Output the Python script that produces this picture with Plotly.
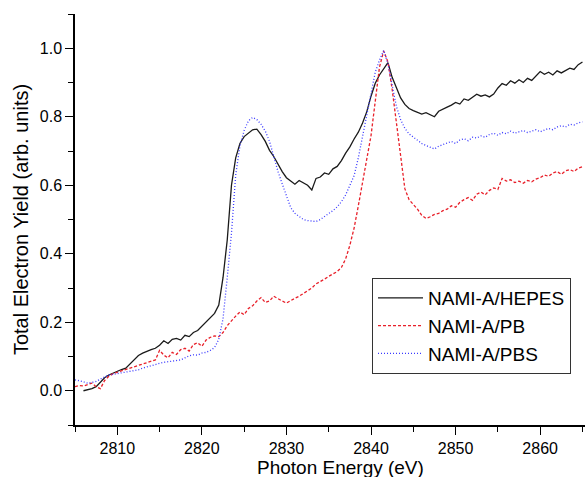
import plotly.graph_objects as go

x_hepes = [2806 + 0.5 * i for i in range(119)]
hepes = [0.000, 0.003, 0.006, 0.012, 0.025, 0.038, 0.046, 0.052, 0.057, 0.062,
         0.066, 0.078, 0.092, 0.103, 0.110, 0.116, 0.120, 0.124, 0.133, 0.146,
         0.138, 0.150, 0.153, 0.148, 0.162, 0.158, 0.170, 0.176, 0.188, 0.203,
         0.212, 0.226, 0.250, 0.330, 0.440, 0.600, 0.680, 0.722, 0.742, 0.752,
         0.762, 0.764, 0.748, 0.728, 0.702, 0.684, 0.660, 0.640, 0.622, 0.612,
         0.603, 0.614, 0.606, 0.600, 0.586, 0.620, 0.624, 0.636, 0.632, 0.648,
         0.655, 0.672, 0.694, 0.712, 0.735, 0.755, 0.782, 0.815, 0.860, 0.898,
         0.922, 0.940, 0.958, 0.915, 0.884, 0.855, 0.836, 0.824, 0.818, 0.812,
         0.808, 0.812, 0.806, 0.800, 0.816, 0.821, 0.828, 0.834, 0.842, 0.837,
         0.852, 0.848, 0.858, 0.866, 0.860, 0.864, 0.858, 0.866, 0.884, 0.897,
         0.892, 0.905, 0.898, 0.908, 0.900, 0.912, 0.906, 0.918, 0.932, 0.924,
         0.930, 0.922, 0.934, 0.928, 0.936, 0.942, 0.938, 0.952, 0.960]

x_pb = [2805 + 0.5 * i for i in range(121)]
pb = [0.012, 0.015, 0.014, 0.018, 0.022, 0.012, 0.006, 0.030, 0.042, 0.050,
      0.054, 0.058, 0.062, 0.066, 0.072, 0.076, 0.080, 0.084, 0.086, 0.090,
      0.118, 0.104, 0.096, 0.112, 0.106, 0.120, 0.124, 0.116, 0.135, 0.140,
      0.130, 0.148, 0.156, 0.160, 0.158, 0.170, 0.190, 0.205, 0.218, 0.230,
      0.222, 0.240, 0.248, 0.262, 0.272, 0.258, 0.262, 0.276, 0.268, 0.262,
      0.256, 0.264, 0.270, 0.276, 0.284, 0.294, 0.300, 0.312, 0.318, 0.326,
      0.334, 0.342, 0.348, 0.360, 0.385, 0.425, 0.475, 0.540, 0.605, 0.675,
      0.745, 0.845, 0.945, 0.992, 0.960, 0.880, 0.780, 0.690, 0.590, 0.558,
      0.545, 0.530, 0.512, 0.503, 0.508, 0.515, 0.518, 0.526, 0.530, 0.540,
      0.536, 0.550, 0.558, 0.564, 0.556, 0.574, 0.580, 0.572, 0.585, 0.592,
      0.588, 0.620, 0.612, 0.616, 0.608, 0.612, 0.606, 0.614, 0.610, 0.618,
      0.622, 0.630, 0.626, 0.636, 0.640, 0.632, 0.642, 0.646, 0.640, 0.650,
      0.654]

x_pbs = [2805 + 0.5 * i for i in range(121)]
pbs = [0.032, 0.030, 0.026, 0.022, 0.024, 0.027, 0.034, 0.040, 0.046, 0.048,
       0.050, 0.052, 0.053, 0.055, 0.058, 0.061, 0.066, 0.070, 0.074, 0.078,
       0.080, 0.083, 0.085, 0.086, 0.088, 0.090, 0.096, 0.102, 0.105, 0.104,
       0.110, 0.112, 0.118, 0.126, 0.150, 0.210, 0.330, 0.460, 0.630, 0.715,
       0.760, 0.788, 0.798, 0.792, 0.778, 0.758, 0.728, 0.682, 0.640, 0.604,
       0.566, 0.535, 0.518, 0.508, 0.500, 0.497, 0.495, 0.494, 0.500, 0.508,
       0.516, 0.526, 0.537, 0.552, 0.572, 0.598, 0.628, 0.680, 0.745, 0.810,
       0.875, 0.930, 0.965, 0.994, 0.955, 0.892, 0.830, 0.792, 0.766, 0.750,
       0.740, 0.730, 0.722, 0.716, 0.712, 0.706, 0.714, 0.718, 0.724, 0.728,
       0.722, 0.732, 0.736, 0.730, 0.740, 0.738, 0.744, 0.740, 0.748, 0.752,
       0.746, 0.754, 0.750, 0.758, 0.752, 0.756, 0.760, 0.754, 0.758, 0.762,
       0.756, 0.762, 0.766, 0.762, 0.770, 0.774, 0.770, 0.778, 0.776, 0.782,
       0.785]

names = ["NAMI-A/HEPES", "NAMI-A/PB", "NAMI-A/PBS"]
x_ticks = [2810, 2820, 2830, 2840, 2850, 2860]
y_ticks = [0.0, 0.2, 0.4, 0.6, 0.8, 1.0]

FONT = "Liberation Sans, Arial, sans-serif"

fig = go.Figure()
fig.add_trace(go.Scatter(x=x_hepes, y=hepes, mode="lines", name=names[0],
                         line=dict(color="#1a1a1a", width=1.3, dash="solid")))
fig.add_trace(go.Scatter(x=x_pb, y=pb, mode="lines", name=names[1],
                         line=dict(color="#e8202a", width=1.3, dash="3px,2px")))
fig.add_trace(go.Scatter(x=x_pbs, y=pbs, mode="lines", name=names[2],
                         line=dict(color="#3a3aff", width=1.3, dash="1px,2px")))

fig.update_layout(
    width=585, height=477,
    margin=dict(l=75, r=0, t=14, b=52),
    paper_bgcolor="white", plot_bgcolor="white",
    font=dict(family=FONT, color="black", size=16),
    showlegend=True,
    legend=dict(x=0.582, y=0.358, xanchor="left", yanchor="top",
                bordercolor="#333", borderwidth=1.2, bgcolor="white",
                font=dict(size=19, family=FONT), tracegroupgap=0,
                itemwidth=45),
    xaxis=dict(range=[2805, 2865.3], tickvals=x_ticks, ticks="outside", ticklen=8,
               tickwidth=1.3, tickcolor="black", showline=True, linecolor="black",
               linewidth=1.5, showgrid=False, zeroline=False,
               minor=dict(ticks="outside", ticklen=5, dtick=5, tick0=2805,
                          tickcolor="black", tickwidth=1.3, showgrid=False),
               tickfont=dict(size=16), ticklabelstandoff=0),
    yaxis=dict(range=[-0.1, 1.1], tickvals=y_ticks, tickformat=".1f", ticks="outside",
               ticklen=8, tickwidth=1.3, tickcolor="black", showline=True,
               linecolor="black", linewidth=1.5, showgrid=False, zeroline=False,
               minor=dict(ticks="outside", ticklen=5, dtick=0.1, tick0=0,
                          tickcolor="black", tickwidth=1.3, showgrid=False),
               title=dict(text="Total Electron Yield (arb. units)", font=dict(size=20),
                          standoff=6),
               tickfont=dict(size=16)),
    annotations=[dict(text="Photon Energy (eV)", xref="paper", yref="paper",
                      x=0.52, y=-0.104, xanchor="center", yanchor="middle",
                      showarrow=False, font=dict(size=19, family=FONT))],
)

fig.write_html("out.html")
